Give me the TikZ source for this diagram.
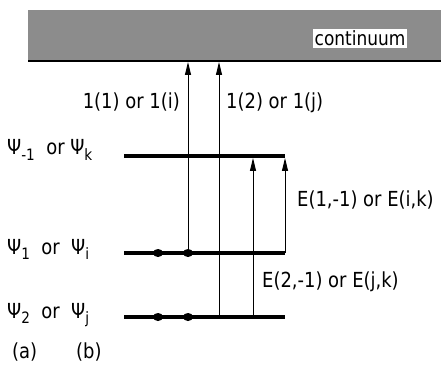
\documentclass[tikz,border=0pt]{standalone}
\usepackage{fontspec}
\setmainfont{DejaVu Sans}
\usetikzlibrary{arrows.meta,shapes.geometric}
\newcommand\lsub[1]{\raisebox{-0.45ex}{\fontsize{14}{14}\selectfont #1}}
\newcommand\tall[1]{\scalebox{0.97}[1.12]{#1}}
\tikzset{
  level/.style={line width=4.3pt},
  trans/.style={line width=1pt,-{Triangle[length=13pt,width=6pt]}},
  dotm/.style={ellipse,fill=black,inner sep=0pt,minimum width=10pt,minimum height=8pt},
  lab/.style={inner sep=0pt,font=\fontsize{18.5}{18}\selectfont},
}
\begin{document}
\begin{tikzpicture}[x=1pt,y=-1pt]
\useasboundingbox (0,0) rectangle (441,371);
% continuum band
\fill[black!45] (28,10) rectangle (441,61);
\draw[line width=1.8pt] (28,61) -- (441,61);
\node[fill=white,inner sep=1.5pt,font=\fontsize{17.5}{17}\selectfont,anchor=center] (cont) at (360,38.5) {\tall{continuum}};
% levels
\coordinate (km) at (124,156); \coordinate (ke) at (285,156);
\coordinate (im) at (124,253); \coordinate (ie) at (285,253);
\coordinate (jm) at (124,317); \coordinate (je) at (285,317);
\draw[level] (km) -- (ke);
\draw[level] (im) -- (ie);
\draw[level] (jm) -- (je);
% dots
\node[dotm] (i1) at (158,253) {};
\node[dotm] (i2) at (188,253) {};
\node[dotm] (j1) at (158,317) {};
\node[dotm] (j2) at (188,317) {};
% arrow anchors
\coordinate (c1) at (188,62);
\coordinate (c2) at (219,62);
\coordinate (j3) at (219,317);
\coordinate (j4) at (253,317);
\coordinate (k4) at (253,158);
\coordinate (i5) at (285,253);
\coordinate (k5) at (285,158);
\draw[trans] (i2.center) -- (c1);
\draw[trans] (j3) -- (c2);
\draw[trans] (j4) -- (k4);
\draw[trans] (i5) -- (k5);
% labels
\node[lab,anchor=base east] (l1) at (180,109) {\tall{1(1) or 1(i)}};
\node[lab,anchor=base west] (l2) at (226,109) {\tall{1(2) or 1(j)}};
\node[lab,anchor=base west] (e1) at (297,207) {\tall{E(1,-1) or E(i,k)}};
\node[lab,anchor=base west] (e2) at (262,287) {\tall{E(2,-1) or E(j,k)}};
\node[lab,anchor=base west] (pk) at (7,155) {\tall{Ψ\lsub{-1}\ \ or\ Ψ\lsub{k}}};
\node[lab,anchor=base west] (pi) at (7,254) {\tall{Ψ\lsub{1}\ \ or\ \ Ψ\lsub{i}}};
\node[lab,anchor=base west] (pj) at (7,318) {\tall{Ψ\lsub{2}\ \ or\ \ Ψ\lsub{j}}};
\node[lab,anchor=base west] (a) at (12,358) {\tall{(a)}};
\node[lab,anchor=base west] (b) at (76,358) {\tall{(b)}};
\end{tikzpicture}
\end{document}
